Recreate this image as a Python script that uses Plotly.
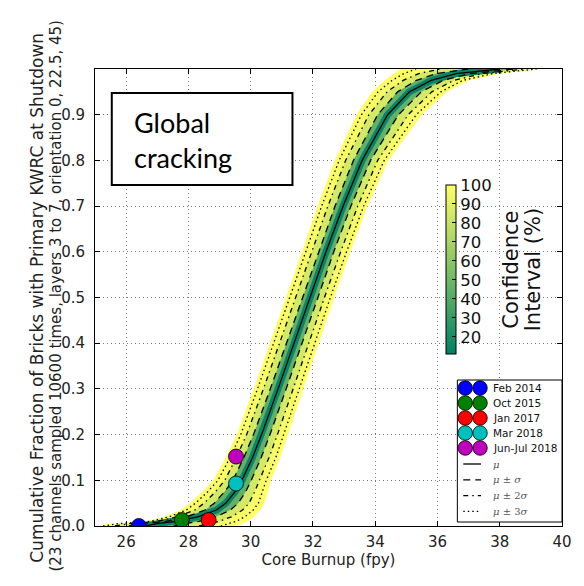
import plotly.graph_objects as go
from plotly.colors import sample_colorscale

# Cumulative fraction levels at which every curve below is tabulated
frac_levels = [0.0, 0.005, 0.01, 0.02, 0.035, 0.05, 0.075, 0.1, 0.15, 0.2, 0.3,
               0.4, 0.5, 0.6, 0.7, 0.8, 0.9, 0.95, 0.975, 0.99, 1.0]

# Core burnup (fpy) reached at each fraction level
bu_mean = [26.6, 27.0, 27.6, 28.3, 28.9, 29.2, 29.5, 29.72, 30.06, 30.35, 30.88,
           31.4, 31.9, 32.42, 32.97, 33.58, 34.4, 35.1, 35.8, 36.6, 38.0]
# mu + k*sigma (earlier burnup) and mu - k*sigma (later burnup)
bu_p1s = [26.09, 26.52, 27.28, 27.95, 28.53, 28.83, 29.16, 29.43, 29.78, 30.09, 30.63,
          31.15, 31.66, 32.17, 32.71, 33.30, 34.08, 34.72, 35.32, 35.96, 36.98]
bu_m1s = [27.53, 27.86, 28.34, 28.88, 29.35, 29.60, 29.84, 30.02, 30.34, 30.62, 31.14,
          31.65, 32.15, 32.67, 33.22, 33.85, 34.75, 35.48, 36.18, 37.05, 38.45]
bu_p2s = [25.64, 26.10, 27.00, 27.64, 28.21, 28.51, 28.87, 29.17, 29.54, 29.87, 30.41,
          30.93, 31.45, 31.96, 32.48, 33.05, 33.80, 34.38, 34.90, 35.40, 36.08]
bu_m2s = [28.34, 28.62, 28.98, 29.38, 29.74, 29.95, 30.13, 30.28, 30.59, 30.86, 31.36,
          31.87, 32.37, 32.89, 33.44, 34.08, 35.06, 35.82, 36.52, 37.44, 38.84]
bu_p3s = [25.26, 25.74, 26.76, 27.38, 27.93, 28.23, 28.62, 28.95, 29.34, 29.68, 30.22,
          30.74, 31.27, 31.77, 32.28, 32.84, 33.56, 34.09, 34.54, 34.92, 35.31]
bu_m3s = [29.04, 29.27, 29.53, 29.81, 30.08, 30.25, 30.38, 30.50, 30.81, 31.06, 31.55,
          32.06, 32.56, 33.08, 33.63, 34.29, 35.32, 36.11, 36.81, 37.78, 39.18]
# Full (100 %) envelope of the sampled curves
bu_env_lo = [25.0, 25.5, 26.6, 27.2, 27.75, 28.05, 28.45, 28.8, 29.2, 29.55, 30.1,
             30.62, 31.15, 31.65, 32.15, 32.7, 33.4, 33.9, 34.3, 34.6, 34.8]
bu_env_hi = [29.5, 29.7, 29.9, 30.1, 30.3, 30.45, 30.55, 30.65, 30.95, 31.2, 31.68,
             32.18, 32.68, 33.2, 33.75, 34.42, 35.5, 36.3, 37.0, 38.0, 39.4]

# Inspection observations
obs_labels = ["Feb 2014", "Oct 2015", "Jan 2017", "Mar 2018", "Jun-Jul 2018"]
obs_burnup = [26.41, 27.79, 28.65, 29.53, 29.53]
obs_fraction = [0.0, 0.013, 0.013, 0.093, 0.152]
obs_colors = ["#0000ff", "#008000", "#ff0000", "#00bfbf", "#bf00bf"]

# Confidence interval colour bar
ci_min, ci_max = 11, 100
ci_ticks = [20, 30, 40, 50, 60, 70, 80, 90, 100]

x_ticks = [26, 28, 30, 32, 34, 36, 38, 40]
y_ticks = [0.0, 0.1, 0.2, 0.3, 0.4, 0.5, 0.6, 0.7, 0.8, 0.9]

summer = [[0.0, "rgb(0,128,102)"], [1.0, "rgb(255,255,102)"]]

# Figure / plot-area geometry in pixels
W, H = 584, 586
M_L, M_R, M_T, M_B = 95, 16, 69, 60
PW, PH = W - M_L - M_R, H - M_T - M_B


def px(x):
    return (x - M_L) / PW


def py(y):
    return (H - M_B - y) / PH


def ci_color(level):
    return sample_colorscale(summer, [(level - ci_min) / (ci_max - ci_min)])[0]


def band(lo, hi, color):
    return go.Scatter(
        x=lo + hi[::-1], y=frac_levels + frac_levels[::-1],
        fill="toself", fillcolor=color, line=dict(width=0),
        mode="lines", hoverinfo="skip", showlegend=False)


fig = go.Figure()
fig.add_trace(band(bu_env_lo, bu_env_hi, ci_color(100)))
fig.add_trace(band(bu_p3s, bu_m3s, ci_color(97)))
fig.add_trace(band(bu_p2s, bu_m2s, ci_color(85)))
fig.add_trace(band(bu_p1s, bu_m1s, ci_color(45)))
fig.add_trace(go.Scatter(x=bu_mean, y=frac_levels, mode="lines",
                         line=dict(color=ci_color(14), width=7),
                         hoverinfo="skip", showlegend=False))

# Mean and sigma curves
line_specs = [
    ("μ", [bu_mean], "solid"),
    ("μ ± σ", [bu_p1s, bu_m1s], "7px,5px"),
    ("μ ± 2σ", [bu_p2s, bu_m2s], "5px,4px,1.5px,4px"),
    ("μ ± 3σ", [bu_p3s, bu_m3s], "1.5px,3px"),
]
for name, curves, dash in line_specs:
    for xs in curves:
        fig.add_trace(go.Scatter(
            x=xs, y=frac_levels, mode="lines", name=name, showlegend=False,
            line=dict(color="black", width=1.3, dash=dash)))

# Observed cracking fractions
for lab, bx, fy, col in zip(obs_labels, obs_burnup, obs_fraction, obs_colors):
    fig.add_trace(go.Scatter(
        x=[bx], y=[fy], mode="markers", name=lab, showlegend=False,
        marker=dict(size=15, color=col, line=dict(color="black", width=0.8))))

# Colour bar for the confidence interval shading
fig.add_trace(go.Scatter(
    x=[30, 30], y=[-1, -1], mode="markers", showlegend=False, hoverinfo="skip",
    marker=dict(color=[ci_min, ci_max], cmin=ci_min, cmax=ci_max,
                colorscale=summer, size=1, showscale=True,
                colorbar=dict(
                    x=px(451), xanchor="left", y=py(269.5), yanchor="middle",
                    thickness=10, len=169, lenmode="pixels",
                    outlinecolor="black", outlinewidth=1,
                    tickvals=ci_ticks, ticks="inside", ticklen=4,
                    tickcolor="black", ypad=0, xpad=0,
                    tickfont=dict(family="DejaVu Sans", size=16.5, color="#111")))))

for text, cx in (("Confidence", 516), ("Interval (%)", 539)):
    fig.add_annotation(text=text, xref="paper", yref="paper", x=px(cx), y=py(270),
                       xanchor="center", yanchor="middle", textangle=-90,
                       showarrow=False,
                       font=dict(family="DejaVu Sans", size=21, color="#111"))

axis_common = dict(
    showline=True, linecolor="black", linewidth=1, mirror="allticks",
    ticks="inside", ticklen=5, tickcolor="black",
    showgrid=True, gridcolor="#777", gridwidth=1, griddash="1px,3px",
    zeroline=False,
    tickfont=dict(family="DejaVu Sans", size=15, color="#222"),
)

fig.update_layout(
    width=W, height=H,
    margin=dict(l=M_L, r=M_R, t=M_T, b=M_B),
    plot_bgcolor="white", paper_bgcolor="white",
    xaxis=dict(range=[25, 40], tickvals=x_ticks, ticklabelstandoff=2,
               title=dict(text="Core Burnup (fpy)", standoff=3,
                          font=dict(family="DejaVu Sans", size=15, color="#222")),
               **axis_common),
    yaxis=dict(range=[0, 1], tickvals=y_ticks, tickformat=".1f",
               ticklabelstandoff=6, **axis_common),
    showlegend=False,
)

# Two-line y-axis label
fig.add_annotation(
    text="Cumulative Fraction of Bricks with Primary KWRC at Shutdown",
    xref="paper", yref="paper", x=px(36), y=py(298), xanchor="center",
    yanchor="middle", textangle=-90, showarrow=False,
    font=dict(family="DejaVu Sans", size=17, color="#222"))
fig.add_annotation(
    text="(23 channels sampled 10600 times, layers 3 to 7, orientation 0, 22.5, 45)",
    xref="paper", yref="paper", x=px(55), y=py(296), xanchor="center",
    yanchor="middle", textangle=-90, showarrow=False,
    font=dict(family="DejaVu Sans", size=15, color="#222"))

# "Global cracking" label box
fig.add_shape(type="rect", xref="paper", yref="paper",
              x0=px(112), x1=px(295), y0=py(185), y1=py(93),
              line=dict(color="black", width=2), fillcolor="white")
fig.add_annotation(
    text="Global<br>cracking", xref="paper", yref="paper", x=px(132), y=py(140),
    xanchor="left", yanchor="middle", align="left", showarrow=False,
    font=dict(family="Lato", size=27, color="black"))

# Legend box: two marker swatches per observation, line samples for mu/sigma
LEG_X0, LEG_X1, LEG_Y0, LEG_Y1 = 462, 568, 380, 522
fig.add_shape(type="rect", xref="paper", yref="paper",
              x0=px(LEG_X0), x1=px(LEG_X1), y0=py(LEG_Y1), y1=py(LEG_Y0),
              line=dict(color="black", width=1), fillcolor="white")
text_x = LEG_X0 + 34
r = 7.3
for i, (lab, col) in enumerate(zip(obs_labels, obs_colors)):
    cy = LEG_Y0 + 8 + 15 * i
    for cx in (LEG_X0 + 8, LEG_X0 + 23):
        fig.add_shape(type="circle", xref="paper", yref="paper",
                      x0=px(cx - r), x1=px(cx + r), y0=py(cy + r), y1=py(cy - r),
                      fillcolor=col, line=dict(color="black", width=0.8))
    fig.add_annotation(text=lab, xref="paper", yref="paper", x=px(text_x), y=py(cy),
                       xanchor="left", yanchor="middle", showarrow=False,
                       font=dict(family="DejaVu Sans", size=10.5, color="#111"))
math_labels = ["<i>μ</i>", "<i>μ</i> ± <i>σ</i>", "<i>μ</i> ± 2<i>σ</i>",
               "<i>μ</i> ± 3<i>σ</i>"]
for j, ((_, _, dash), lab) in enumerate(zip(line_specs, math_labels)):
    cy = LEG_Y0 + 84 + 15.8 * j
    fig.add_shape(type="line", xref="paper", yref="paper",
                  x0=px(LEG_X0 + 6), x1=px(LEG_X0 + 24), y0=py(cy), y1=py(cy),
                  line=dict(color="black", width=1.3, dash=dash))
    fig.add_annotation(text=lab, xref="paper", yref="paper", x=px(text_x), y=py(cy),
                       xanchor="left", yanchor="middle", showarrow=False,
                       font=dict(family="DejaVu Serif", size=10, color="#555"))

fig.write_html("out.html")
